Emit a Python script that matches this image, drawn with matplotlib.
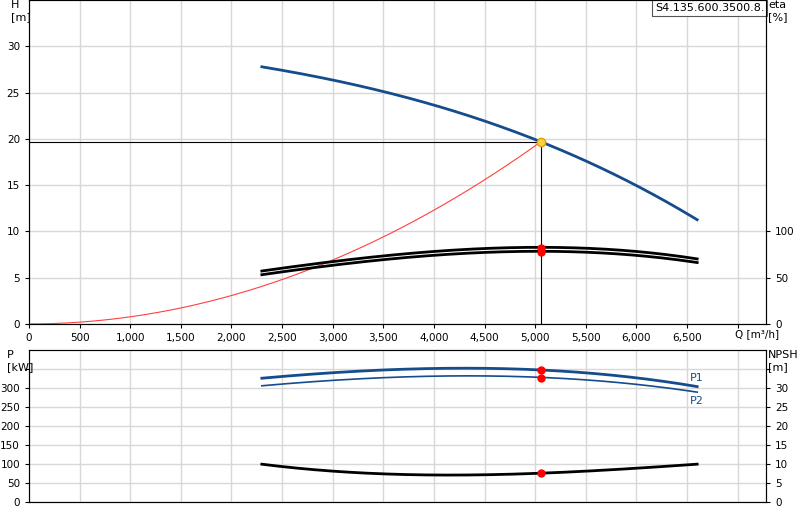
import matplotlib
matplotlib.use("Agg")
import matplotlib.pyplot as plt
import numpy as np

# Head curve
q_h = [2300, 3000, 3500, 4000, 4500, 5060, 5500, 6000, 6300, 6600]
h = [27.7, 26.5, 25.2, 23.6, 21.7, 19.7, 17.6, 15.1, 13.3, 11.1]
# Efficiency curves (eta %, drawn on H-scale /10)
q_eta = [2300, 3000, 4000, 5060, 6000, 6600]
eta1 = [57, 68, 78, 82.5, 79, 70]
eta2 = [53, 64, 74, 78, 75, 66]
# System curve
q_sys = [0, 500, 1000, 1500, 2000, 2500, 3000, 3500, 4000, 4500, 5060]
h_sys = [0, 0.2, 0.8, 1.7, 3.1, 4.8, 6.9, 9.4, 12.3, 15.6, 19.7]
# Power and NPSH
q_p = [2300, 3000, 4000, 5060, 5500, 6000, 6600]
p1 = [325, 342, 350, 347, 340, 328, 303]
p2 = [305, 322, 330, 327, 321, 312, 288]
q_npsh = [2300, 3000, 4000, 5060, 6000, 6600]
npsh = [10, 8, 7.2, 7.6, 8.8, 10]
q_op, h_op = 5060, 19.7

def smooth(x, y):
    xs = np.linspace(x[0], x[-1], 200)
    return xs, np.polyval(np.polyfit(x, y, min(3, len(x) - 1)), xs)

fig = plt.figure(figsize=(8, 5.2), dpi=100)
ax = fig.add_axes([29/800, 1 - 324/520, 737/800, 324/520])
ax2 = fig.add_axes([29/800, 1 - 502/520, 737/800, 152/520])
xmax = 7280
for a in (ax, ax2):
    a.set_xlim(0, xmax)
    a.set_xticks(np.arange(0, 7001, 500))
    a.grid(True, color="#d8d8d8", lw=1)
    a.tick_params(labelsize=7.5, direction="out", length=3)
    for s in a.spines.values():
        s.set_color("#555555")
ax.set_xticklabels(["0"] + [f"{v:,}" for v in range(500, 7001, 500)][:-1] + [""])
ax2.set_xticklabels([])
ax2.tick_params(axis="x", length=0)

ax.set_ylim(0, 35)
ax.set_yticks(range(0, 31, 5))
ax.plot(*smooth(q_h, h), color="#154c8c", lw=2)
ax.plot(*smooth(q_sys, h_sys), color="#ff4040", lw=0.8)
ax.plot(*smooth(q_eta, np.array(eta1) / 10), color="black", lw=2)
ax.plot(*smooth(q_eta, np.array(eta2) / 10), color="black", lw=2)
ax.plot([0, q_op], [h_op, h_op], color="black", lw=0.8)
ax.plot([q_op, q_op], [0, h_op], color="black", lw=0.8)
ax.plot(q_op, eta1[3] / 10, "o", color="red", ms=5)
ax.plot(q_op, eta2[3] / 10, "o", color="red", ms=5)
ax.plot(q_op, h_op, "o", color="#ffd040", mec="#e0a000", ms=6)
axr = ax.twinx()
axr.set_ylim(0, 350)
axr.set_yticks([0, 50, 100])
axr.tick_params(labelsize=7.5, length=3)
ax.text(-0.025, 1.0, "H\n[m]", transform=ax.transAxes, fontsize=8, va="top", ha="left")
axr.text(1.003, 1.0, "eta\n[%]", transform=ax.transAxes, fontsize=8, va="top", ha="left")
ax.text(0.998, 0.99, "S4.135.600.3500.8.", transform=ax.transAxes, fontsize=8,
        va="top", ha="right", bbox=dict(fc="white", ec="#555555", lw=0.8, pad=2))
ax.text(0.958, -0.015, "Q [m³/h]", transform=ax.transAxes, fontsize=7.5, va="top", ha="left")

ax2.set_ylim(0, 400)
ax2.set_yticks(range(0, 351, 50))
ax2.set_yticklabels([str(v) for v in range(0, 301, 50)] + [""])
ax2.plot(*smooth(q_p, p1), color="#154c8c", lw=2)
ax2.plot(*smooth(q_p, p2), color="#154c8c", lw=1.2)
ax2.plot(q_op, p1[3], "o", color="red", ms=5)
ax2.plot(q_op, p2[3], "o", color="red", ms=5)
ax2.text(6600, 312, "P1", color="#154c8c", fontsize=8, ha="center", va="bottom")
ax2.text(6600, 280, "P2", color="#154c8c", fontsize=8, ha="center", va="top")
ax2r = ax2.twinx()
ax2r.set_ylim(0, 40)
ax2r.set_yticks(range(0, 36, 5))
ax2r.set_yticklabels([str(v) for v in range(0, 31, 5)] + [""])
ax2r.tick_params(labelsize=7.5, length=3)
ax2r.plot(*smooth(q_npsh, npsh), color="black", lw=2)
ax2r.plot(q_op, npsh[3], "o", color="red", ms=5)
ax2.text(-0.03, 1.0, "P\n[kW]", transform=ax2.transAxes, fontsize=8, va="top", ha="left")
ax2.text(1.003, 1.0, "NPSH\n[m]", transform=ax2.transAxes, fontsize=8, va="top", ha="left")

fig.savefig("out.png", dpi=100)
